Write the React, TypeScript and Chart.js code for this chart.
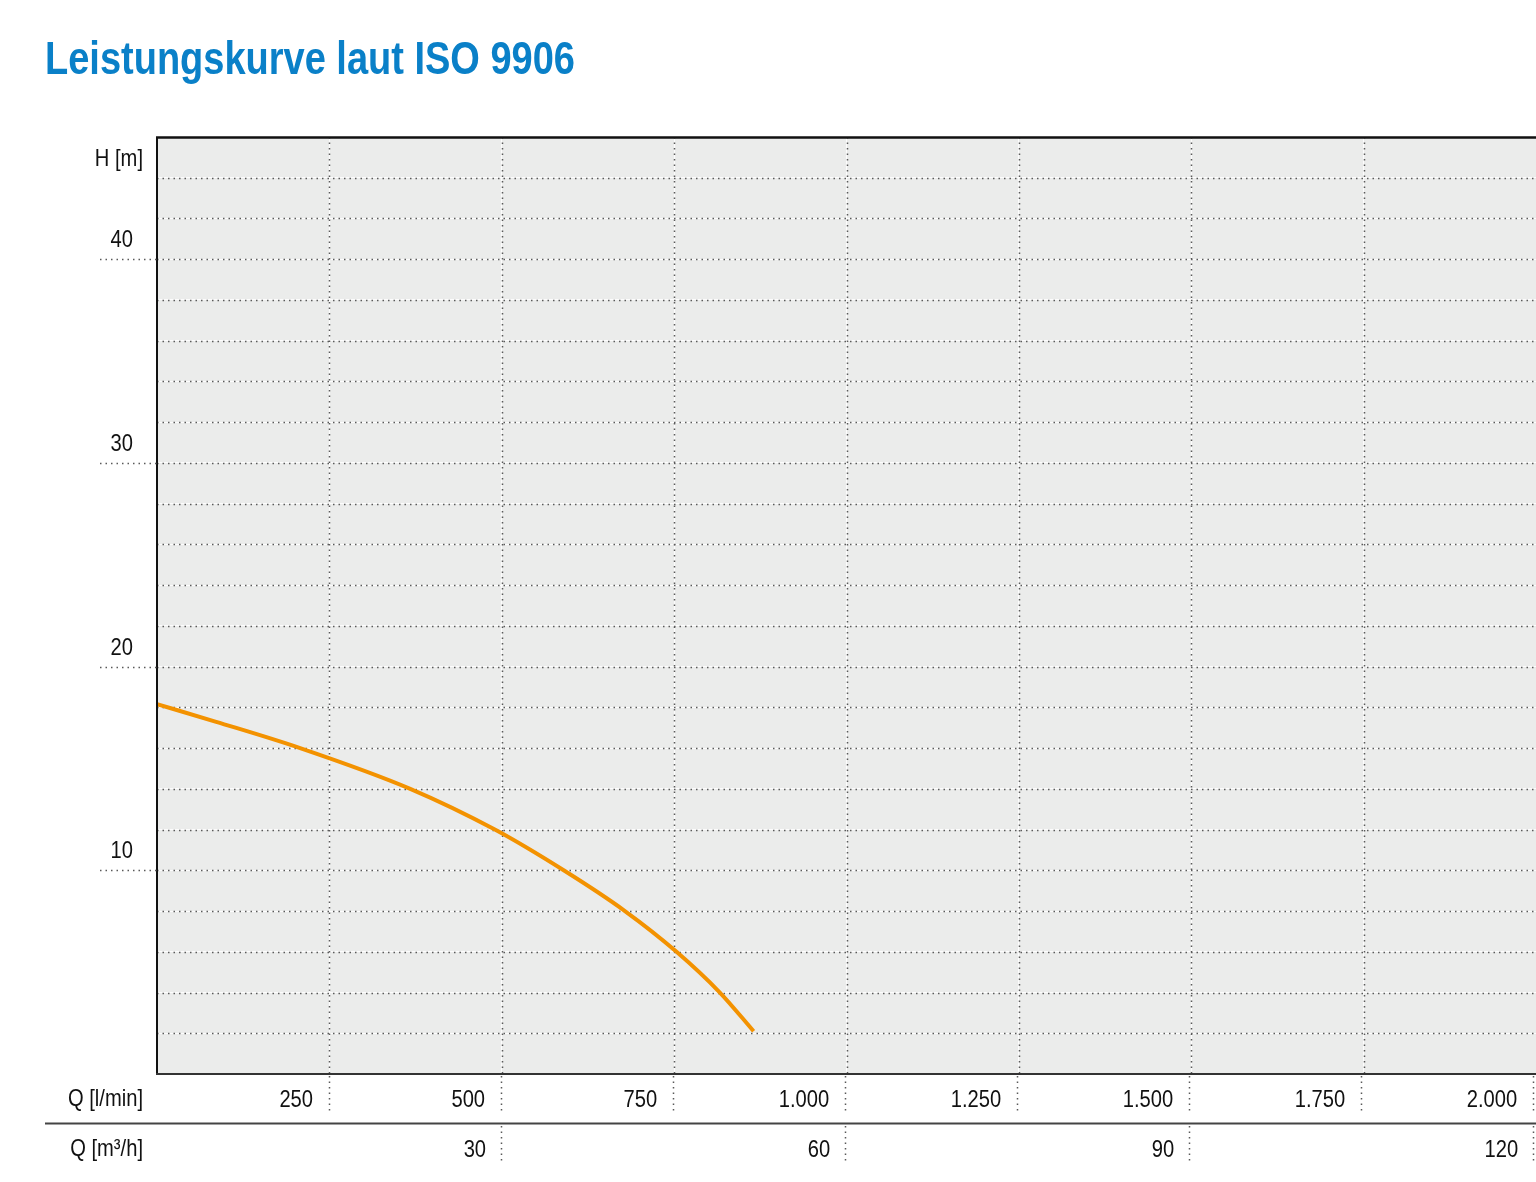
import React, { useEffect, useRef } from "react";
import { Chart, registerables } from "chart.js";

Chart.register(...registerables);

// ---------------- data ----------------
const TITLE = "Leistungskurve laut ISO 9906";
const H_UNIT = "H [m]";
const Q_LPM_UNIT = "Q [l/min]";
const Q_M3H_UNIT = "Q [m³/h]";

// pump curve: flow (l/min) vs head (m)
const flowLpm = [0, 86, 208, 368, 491, 591, 680, 755, 818, 867];
const headM = [18.16, 17.29, 16.0, 14.0, 12.0, 10.0, 8.0, 6.0, 4.0, 2.1];

const hTickValues = [10, 20, 30, 40];
const qLpmTickValues = [250, 500, 750, 1000, 1250, 1500, 1750, 2000];
const qLpmTickLabels = ["250", "500", "750", "1.000", "1.250", "1.500", "1.750", "2.000"];
const qM3hTickValues = [30, 60, 90, 120];
const qM3hTickLabels = ["30", "60", "90", "120"];

const X_MAX = 2004;
const Y_MAX = 46;

// ---------------- styles ----------------
const FONT = '"Liberation Sans", Arial, Helvetica, sans-serif';
const TITLE_COLOR = "#0A80C8";
const CURVE_COLOR = "#F39200";
const PLOT_BG = "#EBECEB";
const DOT_COLOR = "#5a5a5a";
const CONDENSE = 0.84;

const lpmPerM3h = 1000 / 60;

function seg(ctx: CanvasRenderingContext2D, x1: number, y1: number, x2: number, y2: number) {
  ctx.beginPath();
  ctx.moveTo(x1, y1);
  ctx.lineTo(x2, y2);
  ctx.stroke();
}

function condensedText(ctx: CanvasRenderingContext2D, text: string, xRight: number, yBase: number) {
  ctx.save();
  ctx.translate(xRight, yBase);
  ctx.scale(CONDENSE, 1);
  ctx.textAlign = "right";
  ctx.textBaseline = "alphabetic";
  ctx.fillText(text, 0, 0);
  ctx.restore();
}

const decorPlugin = {
  id: "decor",
  beforeDraw(chart: any) {
    const { ctx, chartArea: a } = chart;
    ctx.save();
    ctx.fillStyle = "#ffffff";
    ctx.fillRect(0, 0, chart.width, chart.height);
    ctx.fillStyle = PLOT_BG;
    ctx.fillRect(a.left, a.top, a.right - a.left, a.bottom - a.top);

    // title
    ctx.fillStyle = TITLE_COLOR;
    ctx.font = `bold 46px ${FONT}`;
    ctx.textBaseline = "alphabetic";
    ctx.textAlign = "left";
    ctx.fillText(TITLE, 45, 74, 530);
    ctx.restore();
  },
  beforeDatasetsDraw(chart: any) {
    const { ctx, chartArea: a, scales } = chart;
    const x = scales.x;
    const y = scales.y;
    ctx.save();
    ctx.strokeStyle = DOT_COLOR;
    ctx.lineWidth = 1.5;
    ctx.setLineDash([1.5, 4]);
    x.ticks.forEach((t: any) => {
      if (t.value <= x.min || t.value >= x.max) return;
      const px = Math.round(x.getPixelForValue(t.value)) + 0.5;
      seg(ctx, px, a.top, px, a.bottom);
    });
    y.ticks.forEach((t: any) => {
      if (t.value <= y.min || t.value >= y.max) return;
      const py = Math.round(y.getPixelForValue(t.value)) + 0.5;
      seg(ctx, a.left, py, a.right, py);
    });
    ctx.restore();
  },
  afterDraw(chart: any) {
    const { ctx, chartArea: a, scales } = chart;
    const x = scales.x;
    const y = scales.y;
    ctx.save();

    // plot borders
    ctx.setLineDash([]);
    ctx.strokeStyle = "#111";
    ctx.lineWidth = 2.5;
    seg(ctx, a.left - 1, a.top + 0.5, a.right, a.top + 0.5);
    ctx.lineWidth = 2;
    seg(ctx, a.left, a.top, a.left, a.bottom + 1);
    ctx.strokeStyle = "#333";
    seg(ctx, a.left - 1, a.bottom, a.right, a.bottom);

    // separator between flow rows
    const sepY = 1123.5;
    ctx.strokeStyle = "#444";
    ctx.lineWidth = 2;
    seg(ctx, 45, sepY, chart.width, sepY);

    // dotted tick extensions
    ctx.strokeStyle = DOT_COLOR;
    ctx.lineWidth = 1.5;
    ctx.setLineDash([1.5, 4]);
    hTickValues.forEach((v) => {
      const py = Math.round(y.getPixelForValue(v)) + 0.5;
      seg(ctx, 100, py, a.left, py);
    });
    qLpmTickValues.forEach((v) => {
      const px = Math.round(x.getPixelForValue(v)) + 0.5;
      seg(ctx, px, a.bottom + 2, px, 1111);
    });
    qM3hTickValues.forEach((v) => {
      const px = Math.round(x.getPixelForValue(v * lpmPerM3h)) + 0.5;
      seg(ctx, px, 1126, px, 1161);
    });
    ctx.setLineDash([]);

    // labels
    ctx.fillStyle = "#111";
    ctx.font = `24px ${FONT}`;

    hTickValues.forEach((v) => {
      const py = y.getPixelForValue(v);
      condensedText(ctx, String(v), 133, py - 12);
    });
    condensedText(ctx, H_UNIT, 143, 166);

    condensedText(ctx, Q_LPM_UNIT, 143, 1106);
    qLpmTickValues.forEach((v, i) => {
      const px = x.getPixelForValue(v);
      condensedText(ctx, qLpmTickLabels[i], px - 16, 1107);
    });

    condensedText(ctx, Q_M3H_UNIT, 143, 1156);
    qM3hTickValues.forEach((v, i) => {
      const px = x.getPixelForValue(v * lpmPerM3h);
      condensedText(ctx, qM3hTickLabels[i], px - 15, 1157);
    });

    ctx.restore();
  },
};

export default function App() {
  const canvasRef = useRef<HTMLCanvasElement | null>(null);

  useEffect(() => {
    if (!canvasRef.current) return;
    const chart = new Chart(canvasRef.current, {
      type: "line",
      data: {
        datasets: [
          {
            label: "H",
            data: flowLpm.map((q, i) => ({ x: q, y: headM[i] })),
            borderColor: CURVE_COLOR,
            borderWidth: 4,
            pointRadius: 0,
            fill: false,
            cubicInterpolationMode: "monotone",
          },
        ],
      },
      options: {
        responsive: false,
        maintainAspectRatio: false,
        animation: false,
        devicePixelRatio: 1,
        layout: { padding: { left: 157, top: 137, right: 0, bottom: 108 } },
        plugins: {
          legend: { display: false },
          title: { display: false },
          tooltip: { enabled: false },
        },
        scales: {
          x: {
            type: "linear",
            min: 0,
            max: X_MAX,
            ticks: { display: false, stepSize: 250 },
            grid: { color: "rgba(255,255,255,0.9)", lineWidth: 1, drawTicks: false },
            border: { display: false },
          },
          y: {
            type: "linear",
            min: 0,
            max: Y_MAX,
            ticks: { display: false, stepSize: 2 },
            grid: { color: "rgba(255,255,255,0.9)", lineWidth: 1, drawTicks: false },
            border: { display: false },
          },
        },
      },
      plugins: [decorPlugin],
    });
    return () => chart.destroy();
  }, []);

  return (
    <div style={{ position: "absolute", left: 0, top: 0, width: 1536, height: 1182 }}>
      <canvas ref={canvasRef} width={1536} height={1182} style={{ display: "block" }} />
    </div>
  );
}
